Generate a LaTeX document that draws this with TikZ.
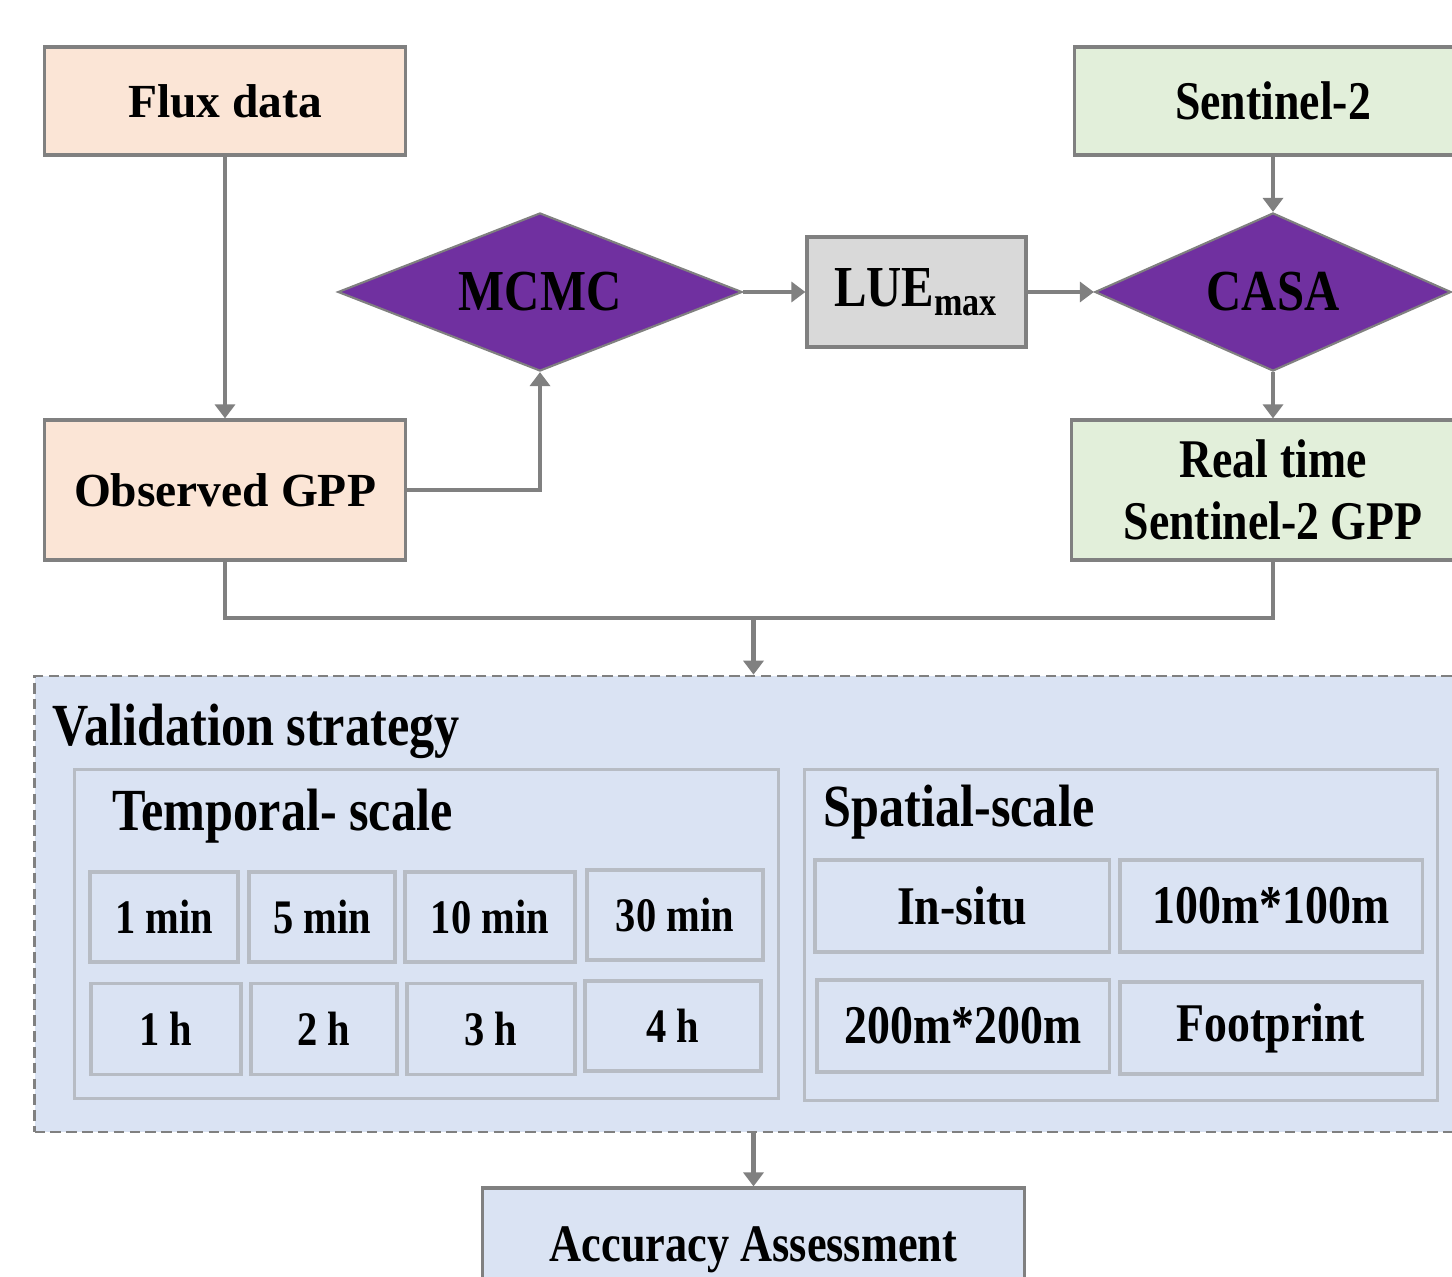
\documentclass[tikz,border=0pt]{standalone}
\usepackage{fontspec}
\setmainfont{Liberation Serif}
\newfontfamily\condensed{Liberation Serif}[FakeStretch=0.84]
\usetikzlibrary{shapes.geometric,arrows.meta}

\definecolor{fluxpink}{HTML}{FBE5D6}
\definecolor{sentgreen}{HTML}{E2EFDA}
\definecolor{luegray}{HTML}{D9D9D9}
\definecolor{casapurple}{HTML}{7030A0}
\definecolor{validblue}{HTML}{DAE3F3}
\definecolor{linegray}{HTML}{808080}
\definecolor{framegray}{HTML}{B7BCC4}

\begin{document}
\begin{tikzpicture}[x=0.01cm,y=-0.01cm,
    box/.style={draw=linegray,line width=0.9pt,inner sep=0pt,align=center},
    srcbox/.style={box,fill=fluxpink,minimum width=3.6cm,font=\fontsize{13.5}{16}\selectfont\bfseries},
    sentbox/.style={box,fill=sentgreen,font=\condensed\bfseries\fontsize{15.5}{17.6}\selectfont},
    model/.style={diamond,draw=linegray,line width=0.6pt,fill=casapurple,inner sep=0pt,aspect=2.5,
                  minimum height=1.58cm,font=\condensed\bfseries\fontsize{16.5}{18}\selectfont},
    frame/.style={draw=framegray,line width=0.9pt,fill=validblue,inner sep=0pt},
    tbox/.style={frame,align=center,font=\condensed\bfseries\fontsize{13.7}{15}\selectfont},
    sbox/.style={frame,align=center,minimum height=0.92cm,font=\condensed\bfseries\fontsize{15.5}{17}\selectfont},
    title/.style={anchor=base west,inner sep=0pt,font=\condensed\bfseries\fontsize{17}{19}\selectfont},
    link/.style={draw=linegray,line width=1.3pt},
    arr/.style={link,-{Triangle[width=0.2cm,length=0.14cm]}}]
    \clip (0,0) rectangle (1452,1276);
    \fill[white] (0,0) rectangle (1452,1276);

    % top row
    \draw (225,101)  node[srcbox,minimum height=1.08cm] (flux) {Flux data};
    \draw (225,490)  node[srcbox,minimum height=1.40cm] (obs) {Observed GPP};
    \draw (1273,101) node[sentbox,minimum width=3.96cm,minimum height=1.08cm] (sent) {Sentinel-2};
    \draw (1273,490) node[sentbox,minimum width=4.02cm,minimum height=1.40cm] (real) {Real time\\Sentinel-2 GPP};
    \draw (540,292)  node[model,minimum width=4.04cm] (mcmc) {MCMC};
    \draw (1273,292) node[model,minimum width=3.56cm] (casa) {CASA};
    \draw (916.5,292) node[box,fill=luegray,minimum width=2.19cm,minimum height=1.10cm,
                           font=\condensed\bfseries\fontsize{16.5}{18}\selectfont] (lue) {LUE\textsubscript{max}};

    % validation strategy
    \draw (753.5,904) node[box,fill=validblue,dashed,dash pattern=on 3pt off 1.5pt,line width=0.7pt,
                           minimum width=14.37cm,minimum height=4.56cm] (valid) {};
    \node[title] (validtitle) at (52,745) {Validation strategy};
    \draw (426.5,934) node[frame,minimum width=7.03cm,minimum height=3.28cm] (temporal) {};
    \draw (1121,935)  node[frame,minimum width=6.32cm,minimum height=3.30cm] (spatial) {};
    \node[title] (temptitle) at (112,830) {Temporal- scale};
    \node[title] (spattitle) at (823,826) {Spatial-scale};

    \draw (164,917)  node[tbox,minimum width=1.48cm,minimum height=0.90cm] (m1) {1 min};
    \draw (322,917)  node[tbox,minimum width=1.46cm,minimum height=0.90cm] (m5) {5 min};
    \draw (490,917)  node[tbox,minimum width=1.70cm,minimum height=0.90cm] (m10) {10 min};
    \draw (675,915)  node[tbox,minimum width=1.76cm,minimum height=0.90cm] (m30) {30 min};
    \draw (166,1029) node[tbox,minimum width=1.50cm,minimum height=0.91cm] (h1) {1 h};
    \draw (324,1029) node[tbox,minimum width=1.46cm,minimum height=0.91cm] (h2) {2 h};
    \draw (491,1029) node[tbox,minimum width=1.68cm,minimum height=0.91cm] (h3) {3 h};
    \draw (673,1026) node[tbox,minimum width=1.76cm,minimum height=0.90cm] (h4) {4 h};

    \draw (962,906)   node[sbox,minimum width=2.94cm] (insitu) {In-situ};
    \draw (1271,906)  node[sbox,minimum width=3.02cm] (hund) {100m*100m};
    \draw (963,1026)  node[sbox,minimum width=2.92cm] (twohund) {200m*200m};
    \draw (1271,1028) node[sbox,minimum width=3.02cm] (foot) {Footprint};

    \draw (753.5,1250) node[box,fill=validblue,minimum width=5.41cm,minimum height=1.24cm,
                            font=\condensed\bfseries\fontsize{15}{17}\selectfont] (acc) {Accuracy Assessment};

    % connectors
    \coordinate (join) at (753.5,618);
    \draw[arr] (flux) -- (obs);
    \draw[arr] (obs.east) -| (mcmc.south);
    \draw[arr] (mcmc.east) -- (lue.west);
    \draw[arr] (lue.east) -- (casa.west);
    \draw[arr] (sent) -- (casa.north);
    \draw[arr] (casa.south) -- (real.north);
    \draw[link] (obs.south) |- (join) -| (real.south);
    \draw[arr] (join) -- (valid.north);
    \draw[arr] (valid.south) -- (acc.north);
\end{tikzpicture}
\end{document}
